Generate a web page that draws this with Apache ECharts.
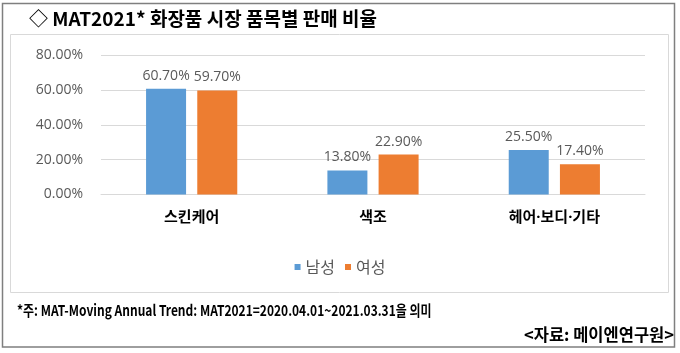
<!DOCTYPE html>
<html>
<head>
<meta charset="utf-8">
<script src="https://cdn.jsdelivr.net/npm/echarts@6/dist/echarts.min.js"></script>
<style>
  html, body { margin: 0; padding: 0; background: #fff; }
  #main { width: 680px; height: 353px; }
</style>
</head>
<body>
<div id="main"></div>
<script>
// 품목 / 성별 판매 비율 (%)
const categories = ['스킨케어', '색조', '헤어·보디·기타'];
const male = [60.7, 13.8, 25.5];
const female = [59.7, 22.9, 17.4];
const seriesNames = ['남성', '여성'];

const fontKR = '"Noto Sans CJK KR", "Noto Sans", sans-serif';
// 가운뎃점은 라틴 폰트로 (CJK 폰트는 전각으로 그림)
const fontMix = '"Noto Sans", "Noto Sans CJK KR", sans-serif';

let myChart = echarts.init(document.getElementById('main'));

// % 표시
function pct (v) {
    return Number(v).toFixed(2) + '%';
}

let option = {
    animation: false,
    textStyle: { fontFamily: fontKR },
    title: {
        text: '◇ MAT2021* 화장품 시장 품목별 판매 비율',
        left: 24,
        top: 4,
        textStyle: { fontSize: 19, fontWeight: 'bold', color: '#000', fontFamily: fontKR }
    },
    graphic: [
        // 바깥 테두리
        {
            type: 'rect',
            shape: { x: 2.5, y: 3.5, width: 672, height: 343.5 },
            style: { fill: 'none', stroke: '#7f7f7f', lineWidth: 1.5 },
            silent: true
        },
        // 차트 영역 테두리
        {
            type: 'rect',
            shape: { x: 10.5, y: 34.5, width: 658, height: 258 },
            style: { fill: 'none', stroke: '#d9d9d9', lineWidth: 1 },
            silent: true
        },
        // 각주 (원본 글꼴이 좁아서 가로로 줄임)
        {
            type: 'text',
            x: 17,
            y: 303,
            scaleX: 0.8,
            style: {
                text: '*주: MAT-Moving Annual Trend: MAT2021=2020.04.01~2021.03.31을 의미',
                fontSize: 15,
                fontWeight: 'bold',
                fill: '#000',
                fontFamily: fontKR
            }
        },
        {
            type: 'text',
            right: 6,
            top: 326,
            style: {
                text: '<자료: 메이엔연구원>',
                fontSize: 16.5,
                fontWeight: 'bold',
                fill: '#000',
                fontFamily: fontKR
            }
        }
    ],
    legend: {
        data: seriesNames,
        left: 'center',
        top: 254,
        icon: 'rect',
        itemWidth: 6,
        itemHeight: 6,
        itemGap: 10,
        textStyle: { fontSize: 16, color: '#595959', fontFamily: fontKR }
    },
    grid: {
        left: 101,
        right: 35,
        top: 55,
        bottom: 353 - 194.5
    },
    xAxis: {
        type: 'category',
        data: categories,
        axisTick: { show: false },
        axisLine: { lineStyle: { color: '#d9d9d9' } },
        axisLabel: {
            margin: 16,
            fontSize: 15,
            fontWeight: 'bold',
            color: '#000',
            fontFamily: fontMix
        }
    },
    yAxis: {
        type: 'value',
        min: 0,
        max: 80,
        interval: 20,
        axisLine: { show: false },
        axisTick: { show: false },
        splitLine: { lineStyle: { color: '#d9d9d9' } },
        axisLabel: {
            margin: 18,
            fontSize: 14,
            color: '#595959',
            fontFamily: '"Open Sans", sans-serif',
            formatter: pct
        }
    },
    series: [
        {
            name: seriesNames[0],
            type: 'bar',
            data: male,
            barWidth: 40,
            barGap: '28%',
            itemStyle: { color: '#5b9bd5' },
            label: {
                show: true,
                position: 'top',
                distance: 6,
                fontSize: 14,
                color: '#595959',
                fontFamily: '"Open Sans", sans-serif',
                formatter: p => pct(p.value)
            }
        },
        {
            name: seriesNames[1],
            type: 'bar',
            data: female,
            barWidth: 40,
            itemStyle: { color: '#ed7d31' },
            label: {
                show: true,
                position: 'top',
                distance: 6,
                fontSize: 14,
                color: '#595959',
                fontFamily: '"Open Sans", sans-serif',
                formatter: p => pct(p.value)
            }
        }
    ]
};

option && myChart.setOption(option);
</script>
</body>
</html>
